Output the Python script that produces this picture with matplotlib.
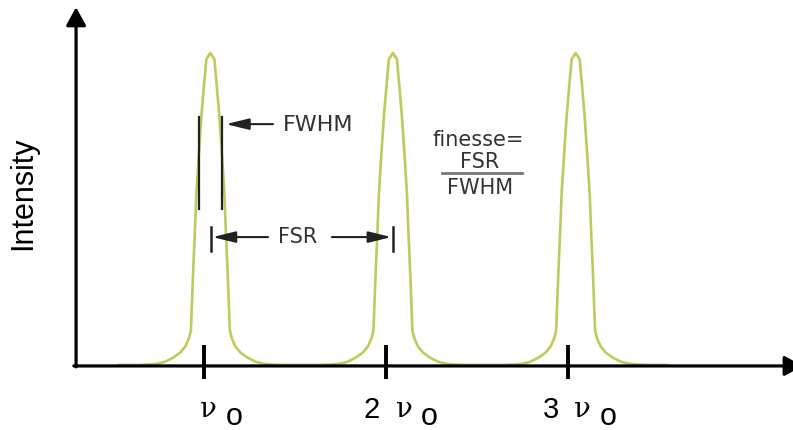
"""
Fabry-Perot transmission peaks: FSR, FWHM and finesse
"""
from matplotlib import pyplot as plt
import numpy

# Data (frequency in units of nu_0, intensity normalised to the peak):
peak_centres = [1.035, 2.038, 3.042]

# One peak profile (offset from centre, level):
profile_offset = [0.0, 0.022, 0.036, 0.049, 0.063, 0.077, 0.085, 0.096,
                  0.107, 0.118, 0.137, 0.165, 0.203, 0.25, 0.302, 0.4, 0.5]
profile_level = [1.0, 0.98, 0.89, 0.80, 0.68, 0.55, 0.43, 0.28,
                 0.11, 0.085, 0.06, 0.04, 0.024, 0.01, 0.003, 0.0, 0.0]

# Tick marks and labels:
tick_pos = [1, 2, 3]
tick_prefix = ['', '2', '3']

# Layout (data coordinates):
nu_x = [1.027, 2.099, 3.082]
fwhm_left = 0.9725
fwhm_right = 1.099

# Colours:
curveColour = '#b7ce5c'
textColour = '#333333'

figure = plt.figure(figsize=(7.93, 4.31), dpi=100)
ax = figure.add_axes([0, 0, 1, 1])
ax.set_xlim(-22/182, (793 - 22)/182)
ax.set_ylim((366 - 431)/312, 366/312)
ax.axis('off')

# Peaks:
off = numpy.array(profile_offset)
lev = numpy.array(profile_level)
xs, ys = [], []
for c in peak_centres:
    xs.extend(list(c - off[::-1]) + list(c + off[1:]))
    ys.extend(list(lev[::-1]) + list(lev[1:]))
ax.plot(xs, ys, color=curveColour, linewidth=1.9, zorder=1)

# Axes with arrows:
axis_kw = dict(arrowstyle='-|>,head_length=0.55,head_width=0.3',
               color='black', lw=2.3, shrinkA=0, shrinkB=0,
               mutation_scale=20)
ax.annotate('', xy=(0.297, 1.147), xytext=(0.297, -0.006),
            arrowprops=axis_kw, zorder=3, annotation_clip=False)
ax.annotate('', xy=(4.29, -0.003), xytext=(0.285, -0.003),
            arrowprops=axis_kw, zorder=3, annotation_clip=False)

# Ticks:
for p in tick_pos:
    ax.plot([p, p], [-0.045, 0.064], color='black', linewidth=2.8,
            solid_capstyle='butt', zorder=3)

# Tick labels:
for p, pre, nx in zip(tick_pos, tick_prefix, nu_x):
    if pre:
        ax.text(nx - 0.176, -0.141, pre, fontsize=21, ha='center',
                va='center', family='Liberation Sans')
    ax.text(nx, -0.138, '\u03bd', fontsize=20, ha='center', va='center',
            family='DejaVu Serif')
    ax.text(nx + 0.137, -0.165, 'o', fontsize=22, ha='center',
            va='center', family='Liberation Sans')

# Y label:
ax.text(0.008, 0.554, 'Intensity', rotation=90, fontsize=22,
        ha='center', va='center', family='Liberation Sans')

# FWHM marker lines:
for xf in [fwhm_left, fwhm_right]:
    ax.plot([xf, xf], [0.5, 0.795], color='#222222', linewidth=1.6,
            zorder=2)

small_arrow = dict(arrowstyle='-|>,head_length=0.7,head_width=0.17',
                   color='#222222', lw=1.5, shrinkA=0, shrinkB=0,
                   mutation_scale=20)
ax.annotate('', xy=(1.12, 0.772), xytext=(1.379, 0.772),
            arrowprops=small_arrow)
ax.text(1.434, 0.772, 'FWHM', fontsize=16, ha='left', va='center',
        color=textColour)

# FSR marker:
for xb in [1.038, 2.038]:
    ax.plot([xb, xb], [0.365, 0.442], color='#222222', linewidth=1.8,
            zorder=2)
ax.annotate('', xy=(1.046, 0.41), xytext=(1.352, 0.41),
            arrowprops=small_arrow)
ax.annotate('', xy=(2.03, 0.41), xytext=(1.703, 0.41),
            arrowprops=small_arrow)
ax.text(1.514, 0.413, 'FSR', fontsize=15, ha='center', va='center',
        color=textColour)

# Finesse formula:
ax.text(2.505, 0.724, 'finesse=', fontsize=15, ha='center', va='center',
        color=textColour)
ax.text(2.516, 0.654, 'FSR', fontsize=15, ha='center', va='center',
        color=textColour)
ax.plot([2.308, 2.747], [0.615, 0.615], color='#777777', linewidth=2.0)
ax.text(2.516, 0.571, 'FWHM', fontsize=15, ha='center', va='center',
        color=textColour)

# Save plot:
plt.savefig('out.png', dpi=100)
